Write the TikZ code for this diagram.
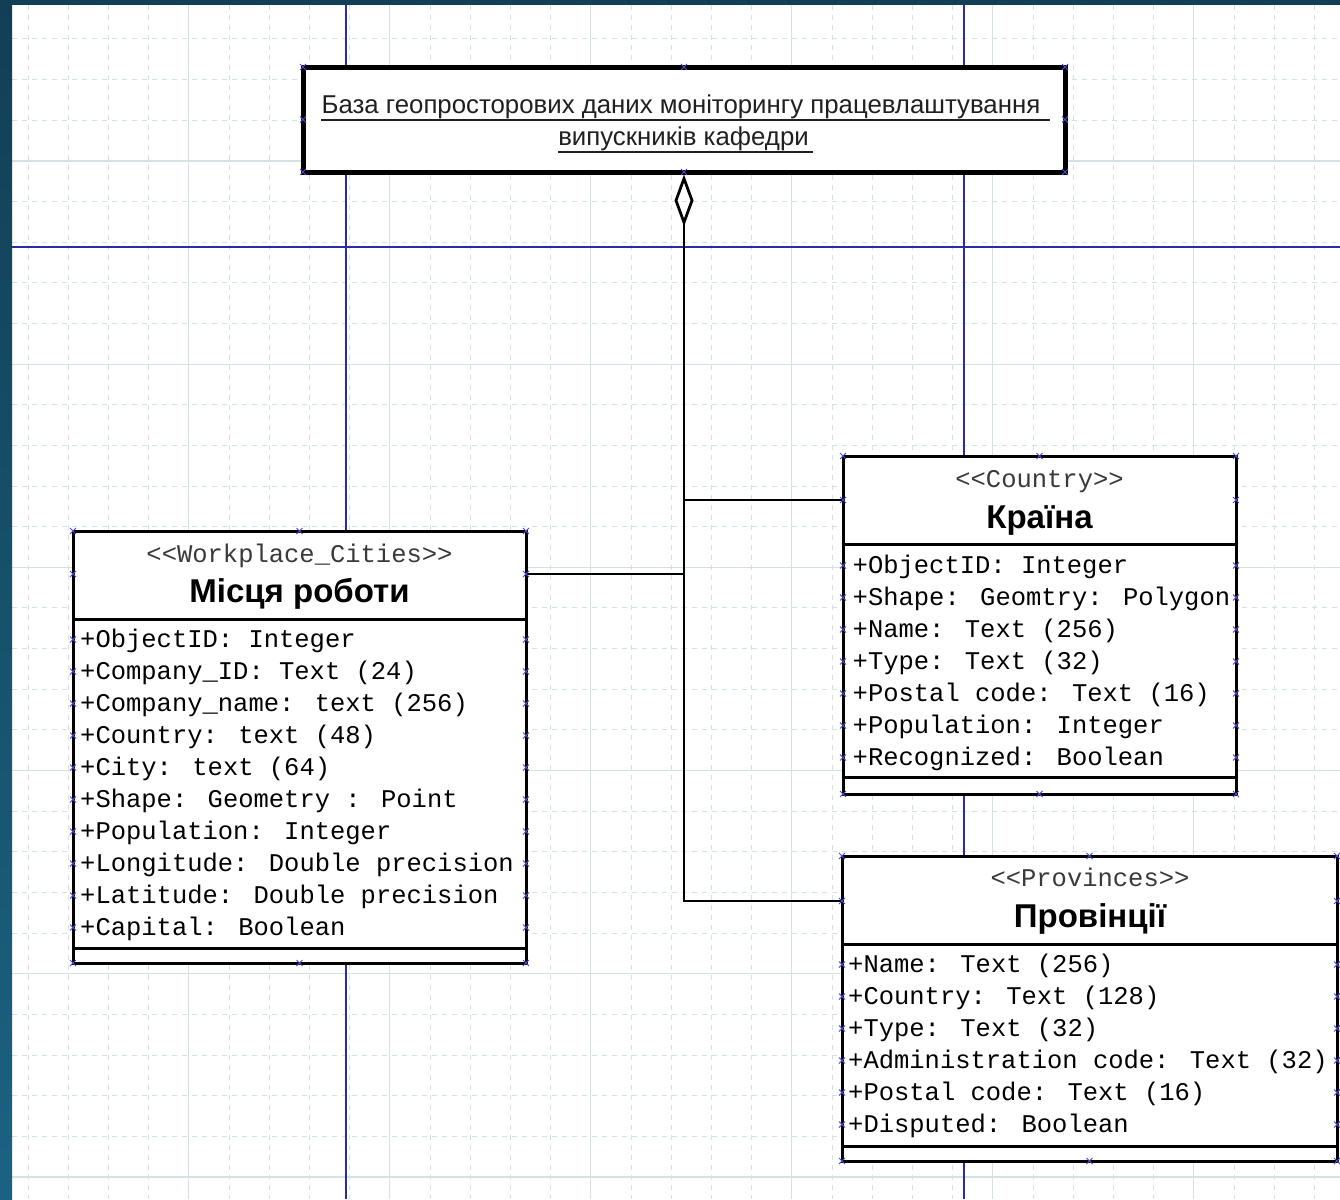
\documentclass[tikz,border=0pt]{standalone}
\usepackage{fontspec}
\setmainfont{Liberation Sans}
\newfontfamily\monof{Liberation Mono}
\usetikzlibrary{arrows.meta}
\definecolor{frameA}{HTML}{123F55}
\definecolor{frameB}{HTML}{1B6282}
\definecolor{gridc}{HTML}{D3E2E2}
\definecolor{guide}{HTML}{2B2BA6}
\definecolor{handle}{HTML}{4A4AD0}
\definecolor{stereo}{HTML}{3A3A3A}
\definecolor{ttl}{HTML}{202020}
\tikzset{
  gridmin/.style={gridc, line width=1pt, dash pattern=on 5pt off 5pt},
  gridmaj/.style={gridc, line width=1.2pt},
  guideline/.style={guide, line width=1.6pt},
  titlebox/.style={draw=black, fill=white, line width=5pt, inner sep=0pt, minimum width=762pt, minimum height=105pt},
  classbox/.style={draw=black, fill=white, line width=3pt, inner sep=0pt, outer sep=0pt, anchor=north west},
  sepline/.style={black, line width=3pt},
  attr/.style={font=\monof\fontsize{25.5}{25.5}\selectfont, anchor=base west, inner sep=0pt, text=black},
  stype/.style={font=\monof\fontsize{25.5}{25.5}\selectfont, anchor=base, inner sep=0pt, text=stereo},
  cname/.style={font=\bfseries\fontsize{33}{33}\selectfont, anchor=base, inner sep=0pt},
  ttext/.style={font=\fontsize{25.8}{25.8}\selectfont, anchor=base, inner sep=0pt, text=ttl},
  uline/.style={ttl, line width=1.5pt},
  conn/.style={black, line width=2.8pt},
  hmark/.style={handle, line width=0.8pt},
}
\newcommand\hnd[2]{\draw[hmark] (#1-3,#2-3) -- (#1+3,#2+3) (#1-3,#2+3) -- (#1+3,#2-3);}
\begin{document}
\begin{tikzpicture}[x=1pt, y=-1pt]
\useasboundingbox (0,0) rectangle (1340,1199);
\fill[white] (0,0) rectangle (1340,1199);
% grid
\foreach \k in {0,...,32} {
  \pgfmathsetmacro\gx{28+40.2*\k}
  \pgfmathtruncatemacro\m{mod(\k,5)}
  \ifnum\m=4 \draw[gridmaj] (\gx,5) -- (\gx,1199); \else \draw[gridmin] (\gx,5) -- (\gx,1199); \fi
}
\foreach \k in {0,...,28} {
  \pgfmathsetmacro\gy{39+40.64*\k}
  \pgfmathtruncatemacro\m{mod(\k,5)}
  \ifnum\m=3 \draw[gridmaj] (12,\gy) -- (1340,\gy); \else \draw[gridmin] (12,\gy) -- (1340,\gy); \fi
}
% guide lines
\draw[guideline] (346,5) -- (346,1199);
\draw[guideline] (964,5) -- (964,1199);
\draw[guideline] (12,247) -- (1340,247);
% frame
\fill[frameA] (0,0) rectangle (1340,5);
\shade[top color=frameA, bottom color=frameB] (0,0) rectangle (12,1199);

% title box
\node[titlebox] (title) at (684,119.5) {};
\node[ttext] (t1) at (681,113) {База геопросторових даних моніторингу працевлаштування};
\node[ttext] (t2) at (683.5,145) {випускників кафедри};
\draw[uline] ([yshift=-7pt]t1.base west) -- ([yshift=-7pt,xshift=9pt]t1.base east);
\draw[uline] ([yshift=-7pt]t2.base west) -- ([yshift=-7pt,xshift=4pt]t2.base east);

% Workplace box
\node[classbox, minimum width=453pt, minimum height=432pt] (wp) at (73,531) {};
\draw[sepline] (73,619) -- (526,619);
\draw[sepline] (73,948) -- (526,948);
\node[stype] (wps) at (299.5,562) {<\kern0pt<Workplace\_Cities>\kern0pt>};
\node[cname] (wpn) at (299.5,602) {Місця роботи};
\foreach \t [count=\i] in {+ObjectID: Integer, +Company\_ID: Text (24), +Company\_name: text (256), +Country: text (48), +City: text (64), +Shape: Geometry : Point, +Population: Integer, +Longitude: Double precision, +Latitude: Double precision, +Capital: Boolean}
  \node[attr] (wpa\i) at (80,{647+32*(\i-1)}) {\t};

% Country box
\node[classbox, minimum width=393pt, minimum height=338pt] (ctry) at (843,456) {};
\draw[sepline] (843,544) -- (1236,544);
\draw[sepline] (843,777) -- (1236,777);
\node[stype] (cts) at (1039.5,487) {<\kern0pt<Country>\kern0pt>};
\node[cname] (ctn) at (1039.5,528) {Країна};
\foreach \t [count=\i] in {+ObjectID: Integer, +Shape: Geomtry: Polygon, +Name: Text (256), +Type: Text (32), +Postal code: Text (16), +Population: Integer, +Recognized: Boolean}
  \node[attr] (cta\i) at (852.5,{573+32*(\i-1)}) {\t};

% Provinces box
\node[classbox, minimum width=495pt, minimum height=305pt] (prov) at (842,856) {};
\draw[sepline] (842,944) -- (1337,944);
\draw[sepline] (842,1146) -- (1337,1146);
\node[stype] (prs) at (1090,886) {<\kern0pt<Provinces>\kern0pt>};
\node[cname] (prn) at (1090,927) {Провінції};
\foreach \t [count=\i] in {+Name: Text (256), +Country: Text (128), +Type: Text (32), +Administration code: Text (32), +Postal code: Text (16), +Disputed: Boolean}
  \node[attr] (pra\i) at (848,{972+32*(\i-1)}) {\t};

% connectors
\coordinate (jC) at (684,500);
\coordinate (jW) at (684,574);
\coordinate (jP) at (684,901);
\draw[conn, {Diamond[open, length=52pt, width=19pt]}-] (title.south) -- (jP) -- (jP -| prov.west);
\draw[conn] (jC) -- (jC -| ctry.west);
\draw[conn] (jW) -- (jW -| wp.east);

% selection handles
\foreach \x in {303,1065} { \foreach \y in {67,119.5,172} { \hnd{\x}{\y} } }
\hnd{684}{67} \hnd{684}{172}
\foreach \x in {73,526} { \foreach \y in {531,574,963} { \hnd{\x}{\y} }
  \foreach \i in {0,...,9} { \hnd{\x}{639.5+32*\i} } }
\hnd{299.5}{531} \hnd{299.5}{963}
\foreach \x in {843,1236} { \foreach \y in {456,500,794} { \hnd{\x}{\y} }
  \foreach \i in {0,...,6} { \hnd{\x}{565.5+32*\i} } }
\hnd{1039.5}{456} \hnd{1039.5}{794}
\foreach \x in {842,1337} { \foreach \y in {856,901,1161} { \hnd{\x}{\y} }
  \foreach \i in {0,...,5} { \hnd{\x}{964.5+32*\i} } }
\hnd{1089.5}{856} \hnd{1089.5}{1161}
\end{tikzpicture}
\end{document}
